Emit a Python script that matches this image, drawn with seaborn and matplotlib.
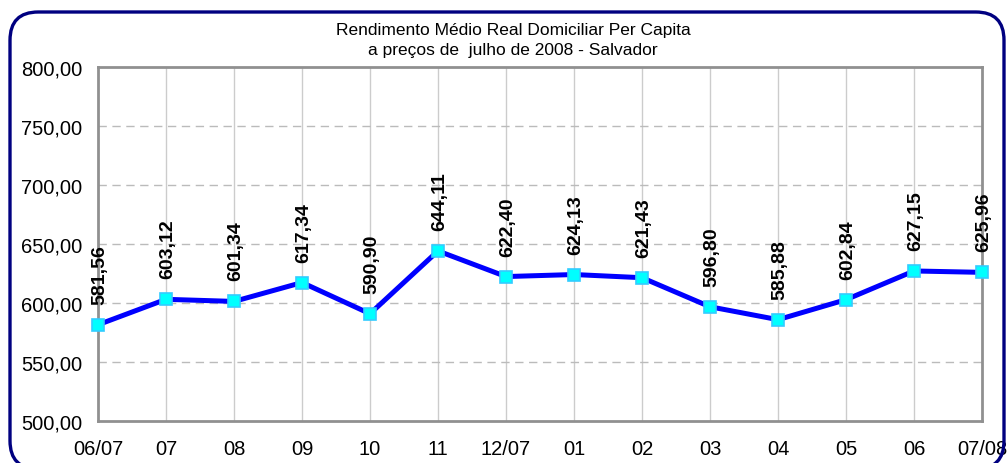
import matplotlib
matplotlib.use("Agg")
import matplotlib.pyplot as plt
import seaborn as sns
import pandas as pd
from matplotlib.patches import FancyBboxPatch
from matplotlib.ticker import FuncFormatter

categories = ["06/07", "07", "08", "09", "10", "11", "12/07", "01", "02", "03", "04", "05", "06", "07/08"]
values = [581.56, 603.12, 601.34, 617.34, 590.90, 644.11, 622.40, 624.13, 621.43, 596.80, 585.88, 602.84, 627.15, 625.96]
y_ticks = [500, 550, 600, 650, 700, 750, 800]
title_lines = ["Rendimento Médio Real Domiciliar Per Capita", "a preços de  julho de 2008 - Salvador"]

sns.set_style("white")
plt.rcParams['font.family'] = ['Liberation Sans', 'DejaVu Sans']

W, H = 1008, 464
fig = plt.figure(figsize=(W / 100, H / 100), dpi=100)

# rounded frame
frame = FancyBboxPatch((10 / W, 1 - 470 / H), (1004 - 10) / W, (470 - 13) / H,
                       boxstyle="round,pad=0.0,rounding_size=0.028",
                       transform=fig.transFigure, fill=False, edgecolor="#000080",
                       linewidth=2.4, mutation_aspect=W / H, clip_on=False)
fig.patches.append(frame)

ax = fig.add_axes([98 / W, 1 - 422 / H, (982 - 98) / W, (422 - 68) / H])

df = pd.DataFrame({"mes": categories, "valor": values})
df["pos"] = range(len(df))
sns.lineplot(data=df, x="pos", y="valor", ax=ax, color="#0000FF", linewidth=3.6,
             marker="s", markersize=9, markerfacecolor="#00FFFF",
             markeredgecolor="#33CCFF", markeredgewidth=1.2, zorder=5)
for ln in ax.lines:
    ln.set_clip_on(False)

ax.set_xlim(0, len(categories) - 1)
ax.set_ylim(500, 800)
ax.set_xticks(range(len(categories)))
ax.set_xticklabels(categories)
ax.set_yticks(y_ticks)
ax.yaxis.set_major_formatter(FuncFormatter(lambda v, p: f"{v:.2f}".replace(".", ",")))
ax.set_xlabel("")
ax.set_ylabel("")

for s in ax.spines.values():
    s.set_visible(True)
    s.set_color("#909090")
    s.set_linewidth(2.0)

ax.tick_params(axis="both", which="both", direction="out", length=4.5, width=1.0,
               color="#909090", labelsize=14.5, labelcolor="black")
ax.tick_params(axis="x", pad=8.5)
ax.tick_params(axis="y", pad=7)

for x in range(1, len(categories) - 1):
    ax.axvline(x, color="#cccccc", linewidth=1.0, zorder=1)
for y in y_ticks[1:-1]:
    ax.axhline(y, color="#bbbbbb", linewidth=1.0, linestyle=(0, (6, 4)), zorder=1)

for i, v in enumerate(values):
    ax.annotate(f"{v:.2f}".replace(".", ","), xy=(i, v), xytext=(2, 21),
                textcoords="offset pixels", rotation=90, ha="center", va="bottom",
                fontsize=14, fontweight="bold", color="black", zorder=6,
                annotation_clip=False)

fig.text(513 / W, 1 - 30 / H, title_lines[0], ha="center", va="center", fontsize=12.5, color="black")
fig.text(513 / W, 1 - 51 / H, title_lines[1], ha="center", va="center", fontsize=12.5, color="black")

fig.savefig("out.png", dpi=100)
